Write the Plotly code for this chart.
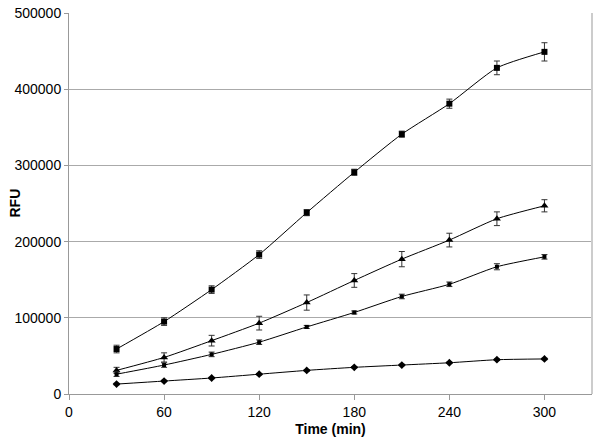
import plotly.graph_objects as go

time_min = [30, 60, 90, 120, 150, 180, 210, 240, 270, 300]

rfu_a = [59000, 95000, 137000, 183000, 238000, 291000, 341000, 381000, 428000, 449000]
err_a = [5000, 5000, 5000, 5000, 4000, 4000, 4000, 6000, 9000, 12000]

rfu_b = [31000, 48000, 70000, 93000, 120000, 149000, 177000, 202000, 230000, 247000]
err_b = [4000, 6000, 7000, 9000, 10000, 9000, 10000, 9000, 9000, 8000]

rfu_c = [26000, 38000, 52000, 68000, 88000, 107000, 128000, 144000, 167000, 180000]
err_c = [3000, 3000, 3000, 3000, 2000, 2000, 3000, 3000, 4000, 3000]

rfu_d = [13000, 17000, 21000, 26000, 31000, 35000, 38000, 41000, 45000, 46000]
err_d = [1000, 1000, 1000, 1000, 1000, 1000, 1000, 1000, 1000, 1000]

series = [
    (rfu_a, err_a, "square", 6),
    (rfu_b, err_b, "triangle-up", 7),
    (rfu_c, err_c, "square", 4),
    (rfu_d, err_d, "diamond", 6),
]

fig = go.Figure()
for y, e, sym, sz in series:
    fig.add_trace(go.Scatter(
        x=time_min, y=y,
        mode="lines+markers",
        line=dict(color="black", width=1, shape="spline", smoothing=0.6),
        marker=dict(symbol=sym, size=sz, color="black"),
        error_y=dict(type="data", array=e, visible=True, color="#333333",
                     thickness=1, width=3),
        showlegend=False,
    ))

fig.update_layout(
    width=600, height=442,
    margin=dict(l=69, r=8, t=13, b=48),
    plot_bgcolor="white", paper_bgcolor="white",
    font=dict(family="Liberation Sans, Arial", size=14, color="black"),
    xaxis=dict(
        range=[0, 330], tickvals=[0, 60, 120, 180, 240, 300],
        showgrid=False, showline=True, linecolor="#999999", linewidth=1,
        mirror=False, ticks="outside", ticklen=5, tickcolor="#999999",
        title=dict(text="<b>Time (min)</b>", standoff=5, font=dict(size=14)),
        zeroline=False, automargin=False,
    ),
    yaxis=dict(
        range=[0, 500000], dtick=100000, tickformat="d",
        showgrid=True, gridcolor="#aaaaaa", gridwidth=1,
        showline=True, linecolor="#999999", linewidth=1,
        ticks="outside", ticklen=4, tickcolor="#999999",
        zeroline=False, automargin=False,
    ),
    annotations=[dict(text="<b>RFU</b>", xref="paper", yref="paper", x=0, y=0.5,
                      xanchor="center", yanchor="middle", xshift=-55,
                      textangle=-90, showarrow=False, font=dict(size=14))],
    shapes=[dict(type="line", xref="paper", yref="paper", x0=1, x1=1, y0=0, y1=1,
                 line=dict(color="#cccccc", width=2))],
)

# page body has a default 8px margin; drop it so the figure sits at 0,0
fig.write_html("out.html", config={"displayModeBar": False},
               post_script="document.body.style.margin='0';")
